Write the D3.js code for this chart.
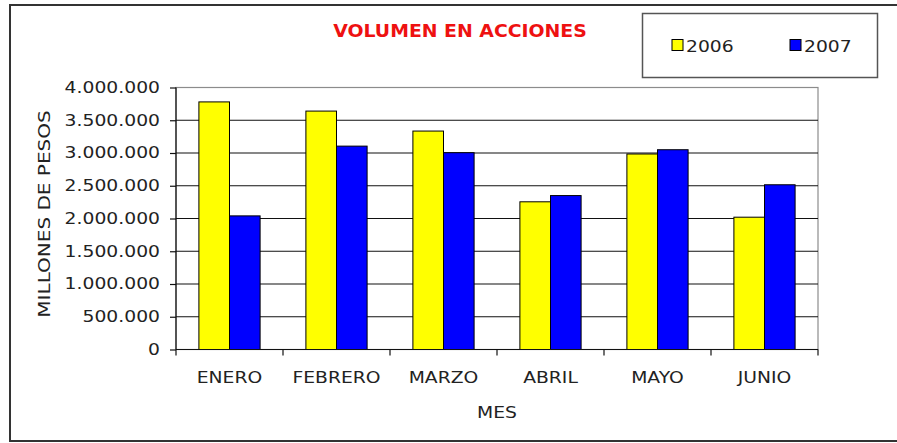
<!DOCTYPE html>
<html>
<head>
<meta charset="utf-8">
<script src="https://cdn.jsdelivr.net/npm/d3@7"></script>
<style>
  html, body { margin: 0; padding: 0; background: #fff; }
  svg { display: block; }
  text { font-family: "DejaVu Sans", Verdana, sans-serif; fill: #222; }
</style>
</head>
<body>
<script>
const categories = ["ENERO", "FEBRERO", "MARZO", "ABRIL", "MAYO", "JUNIO"];
const seriesNames = ["2006", "2007"];
const values2006 = [3780000, 3640000, 3335000, 2255000, 2985000, 2020000];
const values2007 = [2040000, 3105000, 3005000, 2350000, 3050000, 2515000];
const yTicks = [0, 500000, 1000000, 1500000, 2000000, 2500000, 3000000, 3500000, 4000000];
const seriesColors = ["#ffff00", "#0000ff"];
const titleText = "VOLUMEN EN ACCIONES";
const xTitle = "MES";
const yTitle = "MILLONES DE PESOS";

const W = 897, H = 443;
const SX = 1.25; // horizontal stretch of the lettering
const svg = d3.select("body").append("svg").attr("width", W).attr("height", H);

// outer frame
svg.append("rect").attr("x", 10).attr("y", 5).attr("width", 900).attr("height", 436)
  .attr("fill", "#fff").attr("stroke", "#333").attr("stroke-width", 2);

const plot = { left: 176, right: 818, top: 87.5, bottom: 349.5 };

const x0 = d3.scaleBand().domain(categories).range([plot.left, plot.right])
  .paddingInner(0.428).paddingOuter(0.214);
const x1 = d3.scaleBand().domain(seriesNames).range([0, x0.bandwidth()]);
const y = d3.scaleLinear().domain([0, 4000000]).range([plot.bottom, plot.top]);

const loc = d3.formatLocale({ decimal: ",", thousands: ".", grouping: [3], currency: ["$", ""] });
const fmt = loc.format(",");

// plot area border (gray top/right)
svg.append("rect").attr("x", plot.left).attr("y", plot.top)
  .attr("width", plot.right - plot.left).attr("height", plot.bottom - plot.top)
  .attr("fill", "#fff").attr("stroke", "#8c8c8c").attr("stroke-width", 1.2);

// gridlines
svg.append("g").selectAll("line").data(yTicks.filter(d => d > 0 && d < 4000000)).join("line")
  .attr("x1", plot.left).attr("x2", plot.right)
  .attr("y1", d => y(d)).attr("y2", d => y(d))
  .attr("stroke", "#111").attr("stroke-width", 1.2);

// bars
const table = categories.map((c, i) => ({ cat: c, vals: [values2006[i], values2007[i]] }));
const groups = svg.append("g").selectAll("g").data(table).join("g")
  .attr("transform", d => `translate(${x0(d.cat)},0)`);
groups.selectAll("rect").data(d => d.vals.map((v, j) => ({ key: seriesNames[j], v, j }))).join("rect")
  .attr("x", d => x1(d.key)).attr("width", x1.bandwidth())
  .attr("y", d => y(d.v)).attr("height", d => y(0) - y(d.v))
  .attr("fill", d => seriesColors[d.j]).attr("stroke", "#000").attr("stroke-width", 1);

// y axis
const yAxis = d3.axisLeft(y).tickValues(yTicks).tickFormat(fmt).tickSize(6).tickPadding(10);
const gy = svg.append("g").attr("transform", `translate(${plot.left},0)`).call(yAxis);
gy.select(".domain").attr("stroke", "#111").attr("stroke-width", 1.2).attr("d", `M0,${plot.top}V${plot.bottom}`);
gy.selectAll(".tick line").attr("stroke", "#111").attr("stroke-width", 1.2);
gy.selectAll(".tick text")
  .style("font-family", '"DejaVu Sans", sans-serif').attr("font-size", 15).attr("fill", "#222")
  .attr("x", -16 / SX).attr("transform", `scale(${SX},1)`);

// x axis: labels at band centres
const xAxis = d3.axisBottom(x0).tickSize(0).tickPadding(23);
const gx = svg.append("g").attr("transform", `translate(0,${plot.bottom})`).call(xAxis);
gx.select(".domain").remove();
gx.selectAll(".tick text")
  .style("font-family", '"DejaVu Sans", sans-serif').attr("font-size", 15).attr("fill", "#222")
  .attr("transform", `scale(${SX},1)`);
// axis line and boundary ticks
svg.append("line").attr("x1", plot.left).attr("x2", plot.right)
  .attr("y1", plot.bottom).attr("y2", plot.bottom).attr("stroke", "#111").attr("stroke-width", 1.2);
const bounds = categories.map(c => x0(c) - x0.step() * x0.paddingInner() / 2).concat([plot.right]);
svg.append("g").selectAll("line").data(bounds).join("line")
  .attr("x1", d => d).attr("x2", d => d).attr("y1", plot.bottom).attr("y2", plot.bottom + 6)
  .attr("stroke", "#111").attr("stroke-width", 1.2);

// axis titles
svg.append("text").attr("transform", `translate(497,418) scale(${SX},1)`)
  .attr("text-anchor", "middle").attr("font-size", 15).text(xTitle);
svg.append("text").attr("transform", `translate(50,214) rotate(-90) scale(${SX},1)`)
  .attr("text-anchor", "middle").attr("font-size", 16).text(yTitle);

// title
svg.append("text").attr("transform", `translate(460,37) scale(1.11,1)`)
  .attr("text-anchor", "middle").attr("font-size", 17).attr("font-weight", "bold")
  .style("fill", "#ee1111").text(titleText);

// legend
svg.append("rect").attr("x", 642.5).attr("y", 13.5).attr("width", 235).attr("height", 64)
  .attr("fill", "#fff").attr("stroke", "#555").attr("stroke-width", 1.5);
const legX = [672, 790];
const leg = svg.append("g").selectAll("g").data(seriesNames).join("g")
  .attr("transform", (d, i) => `translate(${legX[i]},0)`);
leg.append("rect").attr("x", 0).attr("y", 39.5).attr("width", 11).attr("height", 11)
  .attr("fill", (d, i) => seriesColors[i]).attr("stroke", "#000").attr("stroke-width", 1);
leg.append("text").attr("transform", `translate(14,51.5) scale(${SX},1)`)
  .attr("font-size", 15).text(d => d);
</script>
</body>
</html>
